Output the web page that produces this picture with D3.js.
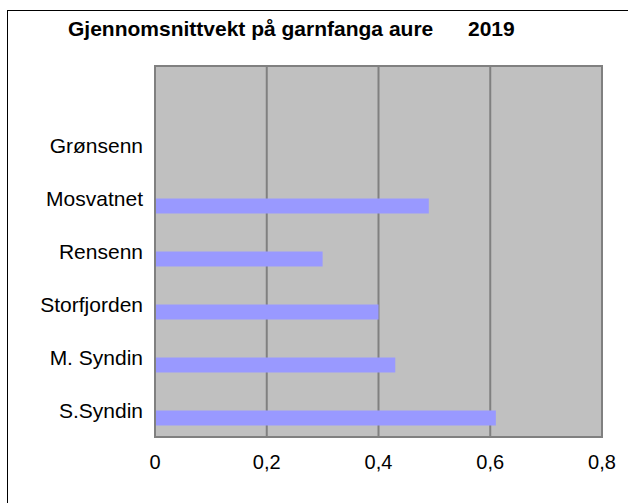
<!DOCTYPE html>
<html>
<head>
<meta charset="utf-8">
<script src="https://cdn.jsdelivr.net/npm/d3@7"></script>
<style>
body { margin: 0; background: #fff; }
text { font-family: "Liberation Sans", Arial, sans-serif; }
</style>
</head>
<body>
<div class="canvas"></div>
<script>
const lakes = ["", "Grønsenn", "Mosvatnet", "Rensenn", "Storfjorden", "M. Syndin", "S.Syndin"]
const weights = [null, null, 0.49, 0.30, 0.40, 0.43, 0.61]
const xTicks = [0, 0.2, 0.4, 0.6, 0.8]

const width = 628
const height = 503
const plot = { left: 155, right: 602, top: 66, bottom: 437 }

const svg = d3.select(".canvas")
    .append("svg")
    .attr("width", width)
    .attr("height", height)

// outer chart border (runs off the right and bottom edge)
svg.append("rect")
    .attr("x", 7.5).attr("y", 10.5)
    .attr("width", 640).attr("height", 520)
    .attr("fill", "white")
    .attr("stroke", "#000")
    .attr("stroke-width", 1)

svg.append("text")
    .attr("x", 68).attr("y", 36)
    .attr("font-size", 21).attr("font-weight", "bold")
    .text("Gjennomsnittvekt på garnfanga aure")

svg.append("text")
    .attr("x", 468).attr("y", 36)
    .attr("font-size", 21).attr("font-weight", "bold")
    .text("2019")

const x = d3.scaleLinear().domain([0, 0.8]).range([plot.left, plot.right])
const y = d3.scaleBand().domain(lakes.map((d, i) => i)).range([plot.top, plot.bottom])

svg.append("rect")
    .attr("x", plot.left).attr("y", plot.top)
    .attr("width", plot.right - plot.left)
    .attr("height", plot.bottom - plot.top)
    .attr("fill", "#c0c0c0")

svg.selectAll(".grid")
    .data(xTicks.slice(1, -1))
    .enter()
    .append("line")
    .attr("x1", d => x(d)).attr("x2", d => x(d))
    .attr("y1", plot.top).attr("y2", plot.bottom)
    .attr("stroke", "#808080")
    .attr("stroke-width", 2)

const barH = 15
svg.selectAll(".bar")
    .data(weights.map((v, i) => ({ v, i })).filter(d => d.v != null))
    .enter()
    .append("rect")
    .attr("x", x(0) + 1)
    .attr("y", d => y(d.i) + y.bandwidth() / 2)
    .attr("width", d => x(d.v) - x(0) - 1)
    .attr("height", barH)
    .attr("fill", "#9999ff")

svg.append("rect")
    .attr("x", plot.left).attr("y", plot.top)
    .attr("width", plot.right - plot.left)
    .attr("height", plot.bottom - plot.top)
    .attr("fill", "none")
    .attr("stroke", "#808080")
    .attr("stroke-width", 2)

svg.selectAll(".ylab")
    .data(lakes.map((name, i) => ({ name, i })))
    .enter()
    .append("text")
    .attr("x", 143)
    .attr("y", d => y(d.i) + y.bandwidth() / 2)
    .attr("dy", "0.36em")
    .attr("text-anchor", "end")
    .attr("font-size", 21)
    .text(d => d.name)

svg.selectAll(".xlab")
    .data(xTicks)
    .enter()
    .append("text")
    .attr("x", d => x(d))
    .attr("y", 462)
    .attr("dy", "0.36em")
    .attr("text-anchor", "middle")
    .attr("font-size", 20)
    .text(d => d3.format(".1f")(d).replace(".", ",").replace(/^0,0$/, "0"))
</script>
</body>
</html>
